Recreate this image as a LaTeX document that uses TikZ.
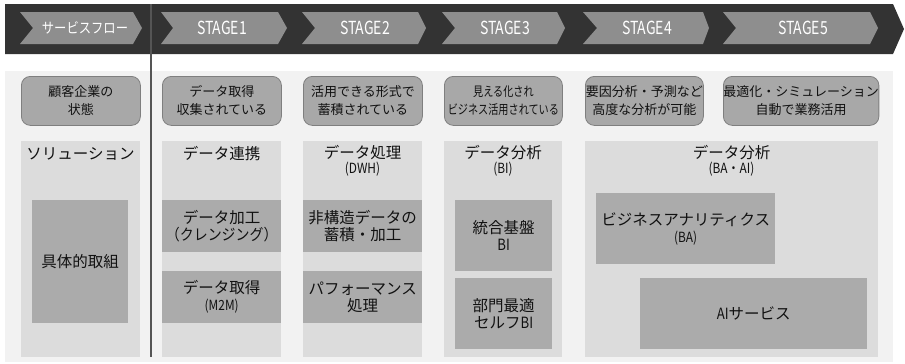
\documentclass[tikz,border=0pt]{standalone}
\usepackage{fontspec}
\setmainfont{Noto Sans CJK JP}
\definecolor{band}{HTML}{333333}
\definecolor{chev}{HTML}{8E8E8E}
\definecolor{panel}{HTML}{F2F2F2}
\definecolor{colbg}{HTML}{DCDCDC}
\definecolor{inbox}{HTML}{ABABAB}
\definecolor{stbox}{HTML}{A8A8A8}
\definecolor{stedge}{HTML}{7F7F7F}
\definecolor{vline}{HTML}{555555}
\definecolor{txt}{HTML}{111111}
\tikzset{
  chevtext/.style={text=white,font=\fontsize{18}{20}\selectfont,inner sep=0pt},
  statusbox/.style={draw=stedge,line width=0.8pt,fill=stbox,rounded corners=9pt,anchor=north west,inner sep=0pt,text=txt,align=center,font=\fontsize{13}{18}\selectfont},
  colbox/.style={fill=colbg,anchor=north west,inner sep=0pt},
  innerbox/.style={fill=inbox,anchor=north west,inner sep=0pt,text=txt,align=center,font=\fontsize{15.5}{17}\selectfont},
  coltitle/.style={text=txt,align=center,inner sep=0pt,font=\fontsize{15.5}{17}\selectfont},
  subtitle/.style={text=txt,inner sep=0pt,font=\fontsize{14}{15}\selectfont},
}
\newcommand{\chevshape}[4]{\fill[chev] (#1,12) -- (#3,12) -- (#4,28) -- (#3,44) -- (#1,44) -- (#2,28) -- cycle;}
\begin{document}
\begin{tikzpicture}[x=1pt,y=-1pt]
\useasboundingbox (0,0) rectangle (905,364);
% top band
\fill[band] (5,4) -- (893,4) -- (904,29) -- (893,54) -- (5,54) -- cycle;
\chevshape{20}{33}{133}{142}
\chevshape{161}{173}{278}{287}
\chevshape{302}{315}{418}{426}
\chevshape{442}{455}{557}{565}
\chevshape{583}{597}{703}{709}
\chevshape{723}{736}{870}{878}
\node[chevtext,font=\fontsize{14.5}{16}\selectfont] (flow) at (85,28) {\scalebox{0.85}[1]{サービスフロー}};
\node[chevtext] (s1) at (222,28) {\scalebox{0.78}[1]{STAGE1}};
\node[chevtext] (s2) at (365,28) {\scalebox{0.78}[1]{STAGE2}};
\node[chevtext] (s3) at (505,28) {\scalebox{0.78}[1]{STAGE3}};
\node[chevtext] (s4) at (647,28) {\scalebox{0.78}[1]{STAGE4}};
\node[chevtext] (s5) at (803,28) {\scalebox{0.78}[1]{STAGE5}};
% panel
\fill[panel] (5,71) rectangle (893,362);
% status boxes
\node[statusbox,minimum width=119pt,minimum height=49pt] (st0) at (21,76) {顧客企業の\\状態};
\node[statusbox,minimum width=119pt,minimum height=49pt] (st1) at (162,76) {データ取得\\収集されている};
\node[statusbox,minimum width=119pt,minimum height=49pt] (st2) at (303,76) {活用できる形式で\\蓄積されている};
\node[statusbox,minimum width=118pt,minimum height=49pt] (st3) at (444,76) {\scalebox{0.78}[1]{見える化され}\\\scalebox{0.78}[1]{ビジネス活用されている}};
\node[statusbox,minimum width=118pt,minimum height=49pt] (st4) at (585,76) {要因分析・予測など\\高度な分析が可能};
\node[statusbox,minimum width=155pt,minimum height=49pt] (st5) at (723,76) {最適化・シミュレーション\\自動で業務活用};
% columns
\node[colbox,minimum width=119pt,minimum height=216pt] (c0) at (21,141) {};
\node[colbox,minimum width=119pt,minimum height=216pt] (c1) at (162,141) {};
\node[colbox,minimum width=119pt,minimum height=216pt] (c2) at (303,141) {};
\node[colbox,minimum width=118pt,minimum height=216pt] (c3) at (444,141) {};
\node[colbox,minimum width=293pt,minimum height=216pt] (c4) at (585,141) {};
% column titles
\node[coltitle] (t0) at (80.5,154) {ソリューション};
\node[coltitle] (t1) at (221.5,154) {データ連携};
\node[coltitle] (t2) at (362.5,153) {データ処理};
\node[subtitle] (t2s) at (362.5,169) {\scalebox{0.85}[1]{(DWH)}};
\node[coltitle] (t3) at (503,153) {データ分析};
\node[subtitle] (t3s) at (503,169) {\scalebox{0.85}[1]{(BI)}};
\node[coltitle] (t4) at (731.5,153) {データ分析};
\node[subtitle] (t4s) at (731.5,169) {\scalebox{0.85}[1]{(BA・AI)}};
% inner boxes
\node[innerbox,minimum width=96pt,minimum height=123pt] (b0) at (32,200) {具体的取組};
\node[innerbox,minimum width=119pt,minimum height=52pt,text width=119pt] (b1a) at (162,200) {データ加工\\\scalebox{0.9}[1]{（クレンジング）}};
\node[innerbox,minimum width=119pt,minimum height=52pt] (b1b) at (162,271) {データ取得\\{\fontsize{14}{15}\selectfont\scalebox{0.85}[1]{(M2M)}}};
\node[innerbox,minimum width=119pt,minimum height=52pt] (b2a) at (303,200) {非構造データの\\蓄積・加工};
\node[innerbox,minimum width=119pt,minimum height=52pt] (b2b) at (303,271) {パフォーマンス\\処理};
\node[innerbox,minimum width=97pt,minimum height=71pt] (b3a) at (455,200) {統合基盤\\\scalebox{0.85}[1]{BI}};
\node[innerbox,minimum width=97pt,minimum height=71pt] (b3b) at (455,278) {部門最適\\セルフ\scalebox{0.85}[1]{BI}};
\node[innerbox,minimum width=179pt,minimum height=71pt] (b4a) at (596,193) {ビジネスアナリティクス\\{\fontsize{14}{15}\selectfont\scalebox{0.85}[1]{(BA)}}};
\node[innerbox,minimum width=227pt,minimum height=71pt] (b4b) at (640,278) {\scalebox{0.85}[1]{AI}サービス};
% divider
\coordinate (vtop) at (151,4);
\coordinate (vbot) at (151,357);
\draw[vline,line width=1.8pt] (vtop) -- (vbot);
\end{tikzpicture}
\end{document}
